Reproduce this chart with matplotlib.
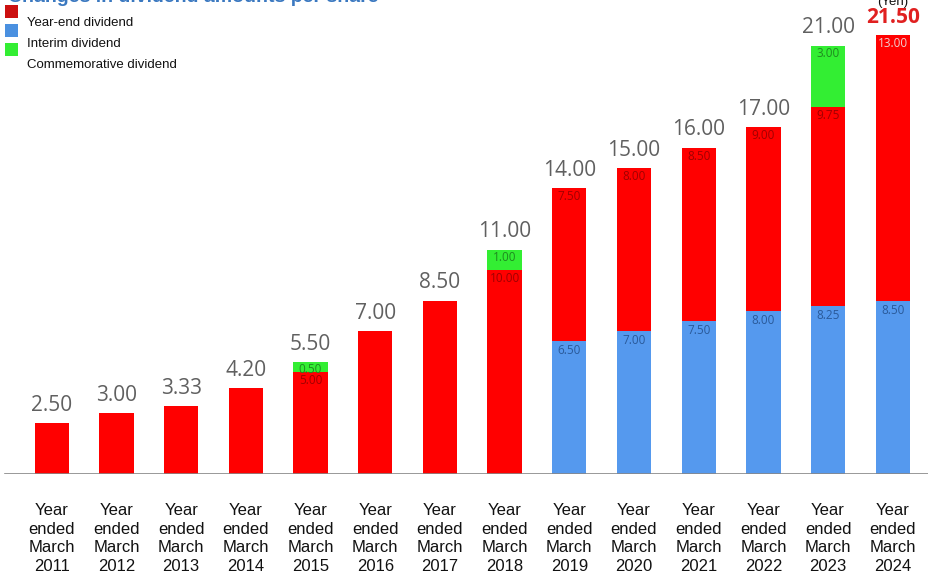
import numpy as np
import matplotlib.pyplot as plt
from matplotlib.patches import Rectangle

years = ["2011", "2012", "2013", "2014", "2015", "2016", "2017",
         "2018", "2019", "2020", "2021", "2022", "2023", "2024"]
interim = [0, 0, 0, 0, 0, 0, 0, 0, 6.50, 7.00, 7.50, 8.00, 8.25, 8.50]
year_end = [2.50, 3.00, 3.33, 4.20, 5.00, 7.00, 8.50, 10.00,
            7.50, 8.00, 8.50, 9.00, 9.75, 13.00]
commem = [0, 0, 0, 0, 0.50, 0, 0, 1.00, 0, 0, 0, 0, 3.00, 0]
totals = ["2.50", "3.00", "3.33", "4.20", "5.50", "7.00", "8.50",
          "11.00", "14.00", "15.00", "16.00", "17.00", "21.00", "21.50"]
# segment labels only shown on stacked bars
show_seg = [False, False, False, False, True, False, False,
            True, True, True, True, True, True, True]

RED = "#ff0000"
BLUE = "#5599ee"
GREEN = "#33ee33"

W, H = 929, 572
fig = plt.figure(figsize=(W / 100, H / 100), dpi=100)
base_px = 474
ymax = 24
px_per = 20.4
ax = fig.add_axes([0, (H - base_px) / H, 1, ymax * px_per / H])
ax.set_xlim(-0.80, 13.56)
ax.set_ylim(0, ymax)
ax.axis("off")

x = np.arange(len(years))
interim = np.array(interim)
year_end = np.array(year_end)
commem = np.array(commem)
bw = 0.53

ax.bar(x, interim, bw, color=BLUE, linewidth=0)
ax.bar(x, year_end, bw, bottom=interim, color=RED, linewidth=0)
ax.bar(x, commem, bw, bottom=interim + year_end, color=GREEN, linewidth=0)
ax.axhline(0, color="#888888", linewidth=1.2, xmin=0.005)

num_font = "Open Sans"
tops = interim + year_end + commem
for i in range(len(x)):
    if i == len(x) - 1:
        ax.text(x[i], tops[i] + 0.35, totals[i], ha="center", va="bottom",
                fontsize=15, color="#e02020", fontweight="bold", family=num_font)
    else:
        ax.text(x[i], tops[i] + 0.35, totals[i], ha="center", va="bottom",
                fontsize=15, color="#606060", family=num_font)
    if not show_seg[i]:
        continue
    if interim[i] > 0:
        ax.text(x[i], interim[i] - 0.15, f"{interim[i]:.2f}", ha="center", va="top",
                fontsize=8.5, color="#2a5a9a", family=num_font)
    seg_col = "#f0d0d0" if i == len(x) - 1 else "#a00000"
    ax.text(x[i], interim[i] + year_end[i] - 0.1, f"{year_end[i]:.2f}", ha="center",
            va="top", fontsize=8.5, color=seg_col, family=num_font)
    if commem[i] > 0:
        ax.text(x[i], tops[i] - 0.08, f"{commem[i]:.2f}", ha="center", va="top",
                fontsize=8.5, color="#1f8a1f", family=num_font)

for i, yr in enumerate(years):
    ax.text(x[i], -1.42, f"Year\nended\nMarch\n{yr}", ha="center", va="top",
            fontsize=12, color="#111111", family="Liberation Sans", linespacing=1.3)

# title (cut off at top like the original) and unit
fig.text(8 / W, 1 + 3 / H, "Changes in dividend amounts per share", ha="left",
         va="center", fontsize=14, fontweight="bold", color="#3a78c0",
         family="Liberation Sans")
fig.text(893 / W, 1 - 2 / H, "(Yen)", ha="center", va="center", fontsize=9.5,
         color="#111111", family="Liberation Sans")

# legend (markers sit a half-row above their labels)
for yy, col in [(12, "#cc1010"), (31, "#4a90e0"), (50, "#33ee33")]:
    fig.patches.append(Rectangle((5 / W, 1 - (yy + 6) / H), 13 / W, 13 / H,
                                 transform=fig.transFigure, facecolor=col,
                                 edgecolor="none"))
for yy, lab in [(23, "Year-end dividend"), (44, "Interim dividend"),
                (65, "Commemorative dividend")]:
    fig.text(27 / W, 1 - yy / H, lab, ha="left", va="center", fontsize=9.5,
             color="#111111", family="Liberation Sans")

fig.savefig("out.png", dpi=100)
